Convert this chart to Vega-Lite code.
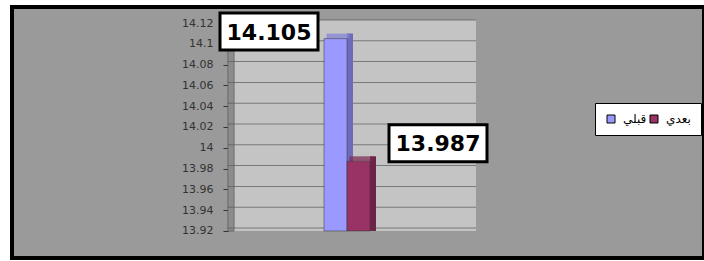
{
  "$schema": "https://vega.github.io/schema/vega-lite/v6.json",
  "autosize": {"type": "none"},
  "width": 692,
  "height": 251,
  "padding": {"left": 12, "top": 7, "right": 0, "bottom": 3},
  "background": "white",
  "config": {
    "view": {"fill": "#9a9a9a", "stroke": "black", "strokeWidth": 4},
    "font": "DejaVu Sans",
    "legend": {
      "orient": "none",
      "legendX": 583,
      "legendY": 96,
      "direction": "horizontal",
      "fillColor": "white",
      "strokeColor": "black",
      "padding": 10,
      "symbolType": "square",
      "symbolSize": 64,
      "symbolStrokeColor": "black",
      "symbolStrokeWidth": 1,
      "symbolOpacity": 1,
      "labelFont": "DejaVu Sans",
      "labelFontSize": 12,
      "labelColor": "black",
      "labelOffset": 6,
      "columnPadding": 1
    }
  },
  "datasets": {
    "bars": [
      {"g": "1", "series": "قبلي", "value": 14.105},
      {"g": "1", "series": "بعدي", "value": 13.987}
    ],
    "grid": [
      {"g": "1", "v": 13.92}, {"g": "1", "v": 13.94}, {"g": "1", "v": 13.96},
      {"g": "1", "v": 13.98}, {"g": "1", "v": 14.0}, {"g": "1", "v": 14.02},
      {"g": "1", "v": 14.04}, {"g": "1", "v": 14.06}, {"g": "1", "v": 14.08},
      {"g": "1", "v": 14.1}, {"g": "1", "v": 14.12}
    ]
  },
  "data": {"name": "bars"},
  "layer": [
    {
      "mark": {"type": "bar", "color": "#c4c4c4", "y2Offset": -3},
      "encoding": {
        "x": {"field": "g", "type": "nominal", "axis": null,
              "scale": {"paddingInner": 0, "paddingOuter": 0.89516, "align": 0.48649}},
        "y": {"datum": 13.92, "type": "quantitative",
              "scale": {"domain": [13.894, 14.1354], "nice": false, "zero": false},
              "axis": {"title": null, "values": [13.92, 13.94, 13.96, 13.98, 14, 14.02, 14.04, 14.06, 14.08, 14.1, 14.12],
                       "tickCount": 20,
                       "format": "~g", "offset": -216, "domain": false, "grid": false, "labelOverlap": false,
                       "tickSize": 5, "tickColor": "#333333", "labelColor": "#333333",
                       "labelFontSize": 11, "labelFont": "DejaVu Sans", "labelPadding": 10}},
        "y2": {"datum": 14.12}
      }
    },
    {
      "mark": {"type": "bar", "color": "#8c8c8c", "width": 6, "xOffset": -121, "stroke": "#555555", "strokeWidth": 0.5},
      "encoding": {
        "x": {"field": "g", "type": "nominal"},
        "y": {"datum": 13.92, "type": "quantitative", "title": null},
        "y2": {"datum": 14.12}
      }
    },
    {
      "data": {"name": "grid"},
      "mark": {"type": "tick", "color": "#5a5a5a", "thickness": 1, "size": 248, "yOffset": -3},
      "encoding": {
        "x": {"field": "g", "type": "nominal"},
        "y": {"field": "v", "type": "quantitative", "title": null}
      }
    },
    {
      "transform": [{"filter": "datum.series === 'قبلي'"}],
      "mark": {"type": "bar", "color": "#6b6bb8", "width": 6, "xOffset": -2, "yOffset": -5},
      "encoding": {
        "x": {"field": "g", "type": "nominal"},
        "y": {"field": "value", "type": "quantitative", "title": null},
        "y2": {"datum": 13.92}
      }
    },
    {
      "transform": [{"filter": "datum.series === 'قبلي'"}],
      "mark": {"type": "tick", "color": "#8080d6", "size": 23, "thickness": 5, "xOffset": -14, "yOffset": -2.5},
      "encoding": {
        "x": {"field": "g", "type": "nominal"},
        "y": {"field": "value", "type": "quantitative", "title": null}
      }
    },
    {
      "mark": {"type": "bar", "stroke": "#333333", "strokeWidth": 0.5},
      "encoding": {
        "x": {"field": "g", "type": "nominal"},
        "xOffset": {"field": "series", "type": "nominal",
                    "scale": {"domain": ["قبلي", "بعدي"], "range": [96, 142], "paddingInner": 0, "paddingOuter": 0}},
        "y": {"field": "value", "type": "quantitative", "title": null},
        "y2": {"datum": 13.92},
        "color": {"field": "series", "type": "nominal",
                  "scale": {"domain": ["قبلي", "بعدي"], "range": ["#9999ff", "#993366"]},
                  "legend": {"title": null}}
      }
    },
    {
      "transform": [{"filter": "datum.series === 'بعدي'"}],
      "mark": {"type": "bar", "color": "#6b2447", "width": 6, "xOffset": 21, "yOffset": -5},
      "encoding": {
        "x": {"field": "g", "type": "nominal"},
        "y": {"field": "value", "type": "quantitative", "title": null},
        "y2": {"datum": 13.92}
      }
    },
    {
      "transform": [{"filter": "datum.series === 'بعدي'"}],
      "mark": {"type": "tick", "color": "#7a2750", "size": 23, "thickness": 5, "xOffset": 9, "yOffset": -2.5},
      "encoding": {
        "x": {"field": "g", "type": "nominal"},
        "y": {"field": "value", "type": "quantitative", "title": null}
      }
    },
    {
      "transform": [{"filter": "datum.series === 'قبلي'"}],
      "mark": {"type": "point", "shape": "M-1,-0.3776H1V0.3776H-1Z", "size": 9604, "filled": true,
               "fill": "white", "stroke": "black", "strokeWidth": 3, "opacity": 1, "xOffset": -83, "yOffset": -7},
      "encoding": {
        "x": {"field": "g", "type": "nominal"},
        "y": {"field": "value", "type": "quantitative", "title": null}
      }
    },
    {
      "transform": [{"filter": "datum.series === 'قبلي'"}],
      "mark": {"type": "text", "font": "DejaVu Sans", "fontWeight": "bold", "fontSize": 22, "color": "black",
               "align": "center", "baseline": "middle", "xOffset": -83, "yOffset": -6},
      "encoding": {
        "x": {"field": "g", "type": "nominal"},
        "y": {"field": "value", "type": "quantitative", "title": null},
        "text": {"field": "value", "type": "quantitative", "format": ".3f"}
      }
    },
    {
      "transform": [{"filter": "datum.series === 'بعدي'"}],
      "mark": {"type": "point", "shape": "M-1,-0.3776H1V0.3776H-1Z", "size": 9604, "filled": true,
               "fill": "white", "stroke": "black", "strokeWidth": 3, "opacity": 1, "xOffset": 86, "yOffset": -18},
      "encoding": {
        "x": {"field": "g", "type": "nominal"},
        "y": {"field": "value", "type": "quantitative", "title": null}
      }
    },
    {
      "transform": [{"filter": "datum.series === 'بعدي'"}],
      "mark": {"type": "text", "font": "DejaVu Sans", "fontWeight": "bold", "fontSize": 22, "color": "black",
               "align": "center", "baseline": "middle", "xOffset": 86, "yOffset": -17},
      "encoding": {
        "x": {"field": "g", "type": "nominal"},
        "y": {"field": "value", "type": "quantitative", "title": null},
        "text": {"field": "value", "type": "quantitative", "format": ".3f"}
      }
    }
  ]
}
